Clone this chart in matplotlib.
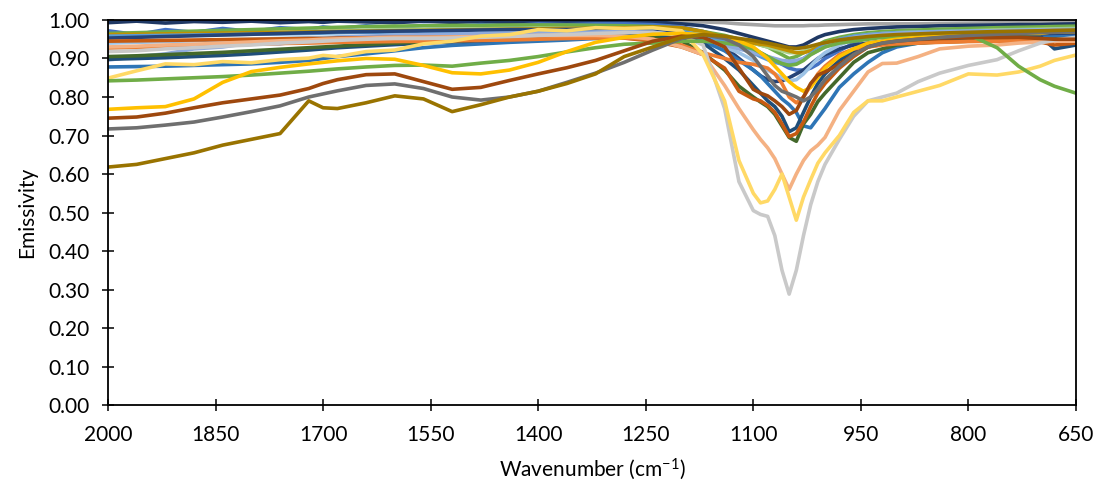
import matplotlib
matplotlib.use("Agg")
import matplotlib.pyplot as plt
from matplotlib.ticker import FixedLocator, FormatStrFormatter

plt.rcParams["font.family"] = ["Lato", "DejaVu Sans"]
plt.rcParams["mathtext.fontset"] = "custom"
plt.rcParams["mathtext.rm"] = "Lato"
plt.rcParams["mathtext.it"] = "Lato:italic"

# Wavenumber sampling (cm-1), shared by all spectra
wavenumber = [
    2000, 1960, 1920, 1880, 1840, 1800, 1760, 1720, 1700, 1680,
    1640, 1600, 1560, 1520, 1480, 1440, 1400, 1360, 1320, 1280, 1240,
    1200, 1170, 1140, 1120, 1100, 1090, 1080, 1070, 1060, 1050,
    1040, 1030, 1020, 1010, 1000, 980, 960, 940, 920, 900,
    870, 840, 800, 760, 730, 700, 680, 650,
]

gray_top = [
    0.997, 0.998, 0.997, 0.998, 0.998, 0.998, 0.997, 0.998, 0.998, 0.998,
    0.998, 0.998, 0.998, 0.998, 0.998, 0.998, 0.998, 0.998, 0.998, 0.998, 0.997,
    0.996, 0.995, 0.993, 0.990, 0.988, 0.987, 0.986, 0.985, 0.985, 0.985,
    0.985, 0.985, 0.986, 0.986, 0.987, 0.988, 0.989, 0.990, 0.990, 0.990,
    0.990, 0.991, 0.992, 0.993, 0.994, 0.995, 0.995, 0.995,
]
navy_top = [
    0.993, 0.997, 0.992, 0.996, 0.994, 0.997, 0.993, 0.996, 0.994, 0.997,
    0.995, 0.993, 0.997, 0.994, 0.996, 0.993, 0.996, 0.995, 0.997, 0.996, 0.995,
    0.990, 0.985, 0.975, 0.965, 0.955, 0.950, 0.945, 0.940, 0.935, 0.930,
    0.930, 0.935, 0.945, 0.955, 0.962, 0.970, 0.975, 0.978, 0.980, 0.982,
    0.983, 0.985, 0.986, 0.987, 0.988, 0.988, 0.989, 0.990,
]
steel_blue = [
    0.972, 0.962, 0.975, 0.968, 0.978, 0.970, 0.980, 0.975, 0.982, 0.978,
    0.985, 0.980, 0.986, 0.983, 0.988, 0.985, 0.990, 0.988, 0.990, 0.990, 0.988,
    0.982, 0.970, 0.955, 0.940, 0.925, 0.915, 0.905, 0.895, 0.885, 0.875,
    0.870, 0.870, 0.875, 0.885, 0.900, 0.920, 0.940, 0.955, 0.960, 0.965,
    0.968, 0.970, 0.972, 0.974, 0.975, 0.976, 0.977, 0.978,
]
green_top = [
    0.965, 0.967, 0.969, 0.971, 0.973, 0.975, 0.977, 0.979, 0.980, 0.981,
    0.983, 0.984, 0.985, 0.986, 0.986, 0.987, 0.987, 0.987, 0.986, 0.985, 0.983,
    0.978, 0.970, 0.960, 0.950, 0.940, 0.935, 0.930, 0.920, 0.910, 0.900,
    0.905, 0.915, 0.925, 0.935, 0.945, 0.955, 0.962, 0.967, 0.970, 0.972,
    0.974, 0.976, 0.978, 0.980, 0.981, 0.982, 0.983, 0.984,
]
light_green = [
    0.955, 0.957, 0.960, 0.962, 0.964, 0.966, 0.968, 0.970, 0.971, 0.972,
    0.974, 0.975, 0.976, 0.977, 0.977, 0.978, 0.978, 0.978, 0.977, 0.975, 0.972,
    0.968, 0.962, 0.955, 0.948, 0.940, 0.935, 0.930, 0.925, 0.920, 0.915,
    0.915, 0.918, 0.925, 0.932, 0.940, 0.950, 0.957, 0.962, 0.965, 0.967,
    0.969, 0.970, 0.972, 0.974, 0.975, 0.976, 0.977, 0.978,
]
dark_gold = [
    0.962, 0.963, 0.964, 0.965, 0.966, 0.967, 0.968, 0.969, 0.970, 0.970,
    0.971, 0.972, 0.973, 0.974, 0.975, 0.976, 0.977, 0.978, 0.979, 0.980, 0.982,
    0.980, 0.970, 0.955, 0.945, 0.940, 0.937, 0.935, 0.930, 0.925, 0.920,
    0.915, 0.915, 0.920, 0.930, 0.940, 0.950, 0.955, 0.958, 0.960, 0.962,
    0.963, 0.964, 0.965, 0.966, 0.967, 0.968, 0.968, 0.969,
]
sky_blue = [
    0.958, 0.959, 0.960, 0.961, 0.962, 0.963, 0.964, 0.965, 0.966, 0.967,
    0.968, 0.969, 0.970, 0.971, 0.972, 0.973, 0.974, 0.975, 0.976, 0.976, 0.975,
    0.970, 0.960, 0.945, 0.930, 0.915, 0.905, 0.897, 0.890, 0.886, 0.885,
    0.890, 0.900, 0.912, 0.925, 0.935, 0.950, 0.958, 0.962, 0.965, 0.967,
    0.968, 0.970, 0.971, 0.972, 0.973, 0.974, 0.975, 0.975,
]
navy_mid = [
    0.953, 0.955, 0.957, 0.959, 0.961, 0.963, 0.965, 0.967, 0.968, 0.969,
    0.970, 0.971, 0.972, 0.973, 0.974, 0.975, 0.975, 0.975, 0.975, 0.973, 0.970,
    0.965, 0.955, 0.930, 0.900, 0.870, 0.855, 0.845, 0.840, 0.842, 0.850,
    0.860, 0.870, 0.885, 0.900, 0.910, 0.925, 0.935, 0.940, 0.945, 0.948,
    0.950, 0.952, 0.955, 0.957, 0.958, 0.960, 0.960, 0.961,
]
pale_blue = [
    0.940, 0.942, 0.944, 0.946, 0.948, 0.950, 0.952, 0.954, 0.955, 0.956,
    0.957, 0.958, 0.959, 0.960, 0.961, 0.962, 0.963, 0.964, 0.965, 0.965, 0.962,
    0.955, 0.945, 0.930, 0.915, 0.895, 0.880, 0.870, 0.860, 0.850, 0.842,
    0.845, 0.860, 0.880, 0.900, 0.915, 0.935, 0.950, 0.958, 0.962, 0.965,
    0.967, 0.968, 0.970, 0.972, 0.973, 0.974, 0.975, 0.975,
]
cornflower = [
    0.896, 0.905, 0.912, 0.925, 0.930, 0.940, 0.938, 0.948, 0.950, 0.955,
    0.958, 0.960, 0.962, 0.963, 0.965, 0.966, 0.968, 0.968, 0.969, 0.970, 0.968,
    0.960, 0.950, 0.935, 0.925, 0.915, 0.910, 0.905, 0.900, 0.895, 0.893,
    0.895, 0.900, 0.910, 0.920, 0.930, 0.945, 0.955, 0.960, 0.963, 0.965,
    0.967, 0.968, 0.970, 0.971, 0.972, 0.973, 0.974, 0.975,
]
mid_blue = [
    0.878, 0.879, 0.880, 0.882, 0.884, 0.886, 0.890, 0.895, 0.900, 0.905,
    0.912, 0.920, 0.928, 0.934, 0.938, 0.942, 0.945, 0.948, 0.952, 0.955, 0.958,
    0.955, 0.945, 0.920, 0.895, 0.870, 0.855, 0.835, 0.815, 0.795, 0.780,
    0.760, 0.725, 0.720, 0.745, 0.770, 0.825, 0.860, 0.890, 0.915, 0.930,
    0.940, 0.945, 0.950, 0.952, 0.954, 0.955, 0.956, 0.957,
]
navy_low = [
    0.898, 0.900, 0.902, 0.905, 0.908, 0.912, 0.917, 0.922, 0.925, 0.928,
    0.932, 0.936, 0.940, 0.943, 0.946, 0.949, 0.952, 0.955, 0.958, 0.960, 0.960,
    0.955, 0.940, 0.900, 0.870, 0.830, 0.810, 0.790, 0.775, 0.750, 0.710,
    0.720, 0.760, 0.800, 0.835, 0.860, 0.895, 0.920, 0.935, 0.940, 0.945,
    0.948, 0.950, 0.953, 0.955, 0.957, 0.958, 0.925, 0.935,
]
forest_green = [
    0.905, 0.907, 0.910, 0.913, 0.916, 0.920, 0.924, 0.928, 0.930, 0.932,
    0.936, 0.940, 0.943, 0.946, 0.948, 0.950, 0.952, 0.954, 0.956, 0.957, 0.955,
    0.945, 0.915, 0.870, 0.828, 0.800, 0.787, 0.775, 0.755, 0.725, 0.695,
    0.685, 0.730, 0.755, 0.788, 0.810, 0.850, 0.890, 0.915, 0.925, 0.935,
    0.940, 0.943, 0.945, 0.947, 0.948, 0.949, 0.950, 0.950,
]
rust = [
    0.945, 0.946, 0.947, 0.948, 0.949, 0.950, 0.951, 0.952, 0.952, 0.953,
    0.954, 0.955, 0.955, 0.956, 0.956, 0.957, 0.957, 0.957, 0.956, 0.953, 0.945,
    0.930, 0.910, 0.875, 0.815, 0.795, 0.790, 0.778, 0.760, 0.730, 0.697,
    0.705, 0.735, 0.775, 0.810, 0.835, 0.875, 0.905, 0.930, 0.937, 0.940,
    0.942, 0.943, 0.945, 0.945, 0.944, 0.943, 0.935, 0.940,
]
orange = [
    0.927, 0.929, 0.931, 0.933, 0.935, 0.937, 0.939, 0.940, 0.941, 0.942,
    0.943, 0.944, 0.945, 0.946, 0.947, 0.948, 0.950, 0.952, 0.953, 0.953, 0.950,
    0.935, 0.915, 0.900, 0.890, 0.885, 0.880, 0.875, 0.860, 0.835, 0.800,
    0.785, 0.800, 0.830, 0.860, 0.880, 0.910, 0.925, 0.930, 0.935, 0.938,
    0.940, 0.942, 0.944, 0.945, 0.946, 0.947, 0.948, 0.948,
]
salmon = [
    0.930, 0.932, 0.935, 0.937, 0.940, 0.943, 0.946, 0.948, 0.950, 0.951,
    0.953, 0.955, 0.955, 0.956, 0.957, 0.958, 0.960, 0.960, 0.960, 0.958, 0.950,
    0.930, 0.910, 0.830, 0.770, 0.715, 0.690, 0.668, 0.640, 0.600, 0.560,
    0.600, 0.635, 0.660, 0.675, 0.695, 0.765, 0.815, 0.865, 0.887, 0.888,
    0.905, 0.925, 0.932, 0.935, 0.940, 0.943, 0.945, 0.945,
]
light_gray = [
    0.918, 0.920, 0.925, 0.928, 0.932, 0.935, 0.940, 0.943, 0.945, 0.947,
    0.950, 0.952, 0.952, 0.953, 0.955, 0.957, 0.960, 0.962, 0.965, 0.967, 0.968,
    0.960, 0.935, 0.770, 0.580, 0.505, 0.495, 0.490, 0.440, 0.350, 0.288,
    0.350, 0.440, 0.520, 0.580, 0.625, 0.690, 0.750, 0.790, 0.800, 0.810,
    0.840, 0.862, 0.882, 0.897, 0.920, 0.940, 0.948, 0.955,
]
light_yellow = [
    0.849, 0.868, 0.886, 0.884, 0.892, 0.889, 0.897, 0.901, 0.908, 0.905,
    0.918, 0.922, 0.938, 0.945, 0.958, 0.962, 0.975, 0.972, 0.980, 0.978, 0.980,
    0.972, 0.910, 0.790, 0.635, 0.550, 0.525, 0.530, 0.560, 0.600, 0.540,
    0.480, 0.540, 0.585, 0.628, 0.655, 0.700, 0.760, 0.790, 0.790, 0.800,
    0.815, 0.830, 0.860, 0.857, 0.865, 0.880, 0.895, 0.909,
]
green_low = [
    0.842, 0.844, 0.847, 0.850, 0.853, 0.857, 0.862, 0.867, 0.870, 0.873,
    0.878, 0.882, 0.883, 0.880, 0.888, 0.895, 0.905, 0.917, 0.928, 0.937, 0.940,
    0.945, 0.945, 0.940, 0.935, 0.925, 0.915, 0.905, 0.895, 0.887, 0.882,
    0.885, 0.895, 0.910, 0.920, 0.930, 0.940, 0.945, 0.950, 0.955, 0.955,
    0.960, 0.960, 0.962, 0.928, 0.880, 0.845, 0.828, 0.810,
]
gold = [
    0.768, 0.772, 0.775, 0.795, 0.838, 0.866, 0.877, 0.886, 0.890, 0.894,
    0.900, 0.898, 0.882, 0.863, 0.860, 0.870, 0.890, 0.918, 0.942, 0.955, 0.963,
    0.965, 0.962, 0.955, 0.945, 0.930, 0.915, 0.900, 0.880, 0.860, 0.840,
    0.825, 0.815, 0.825, 0.850, 0.875, 0.905, 0.925, 0.940, 0.945, 0.950,
    0.955, 0.960, 0.960, 0.965, 0.965, 0.965, 0.970, 0.970,
]
brown = [
    0.745, 0.748, 0.758, 0.772, 0.785, 0.795, 0.805, 0.822, 0.835, 0.845,
    0.858, 0.860, 0.840, 0.820, 0.825, 0.843, 0.860, 0.876, 0.895, 0.920, 0.945,
    0.958, 0.955, 0.930, 0.875, 0.820, 0.810, 0.803, 0.790, 0.775, 0.755,
    0.765, 0.800, 0.835, 0.857, 0.865, 0.885, 0.910, 0.930, 0.940, 0.945,
    0.950, 0.953, 0.955, 0.955, 0.955, 0.952, 0.950, 0.950,
]
dark_gray = [
    0.717, 0.720, 0.727, 0.735, 0.748, 0.762, 0.777, 0.800, 0.808, 0.816,
    0.830, 0.834, 0.822, 0.800, 0.792, 0.800, 0.815, 0.838, 0.862, 0.890, 0.922,
    0.952, 0.962, 0.952, 0.935, 0.905, 0.880, 0.855, 0.830, 0.815, 0.808,
    0.800, 0.790, 0.800, 0.820, 0.845, 0.880, 0.910, 0.930, 0.940, 0.945,
    0.950, 0.955, 0.960, 0.963, 0.965, 0.967, 0.968, 0.970,
]
olive = [
    0.618, 0.625, 0.640, 0.655, 0.675, 0.690, 0.705, 0.790, 0.772, 0.770,
    0.785, 0.803, 0.795, 0.762, 0.780, 0.800, 0.815, 0.835, 0.860, 0.905, 0.930,
    0.955, 0.962, 0.958, 0.952, 0.947, 0.943, 0.940, 0.936, 0.932, 0.928,
    0.926, 0.928, 0.932, 0.937, 0.941, 0.948, 0.953, 0.957, 0.960, 0.962,
    0.964, 0.966, 0.968, 0.970, 0.971, 0.972, 0.973, 0.974,
]

x_ticks = [2000, 1850, 1700, 1550, 1400, 1250, 1100, 950, 800, 650]
y_ticks = [0.0, 0.1, 0.2, 0.3, 0.4, 0.5, 0.6, 0.7, 0.8, 0.9, 1.0]

# spectra in drawing order (later ones sit on top)
spectra = [
    (gray_top, "#A5A5A5"),
    (navy_top, "#1F3864"),
    (steel_blue, "#4472C4"),
    (green_top, "#70AD47"),
    (light_green, "#A9D18E"),
    (dark_gold, "#BF9000"),
    (sky_blue, "#5B9BD5"),
    (navy_mid, "#264478"),
    (pale_blue, "#9DC3E6"),
    (cornflower, "#8FAADC"),
    (mid_blue, "#2E75B6"),
    (navy_low, "#1F4E79"),
    (forest_green, "#43682B"),
    (rust, "#C55A11"),
    (orange, "#ED7D31"),
    (salmon, "#F4B183"),
    (light_gray, "#C9C9C9"),
    (light_yellow, "#FFD966"),
    (green_low, "#70AD47"),
    (gold, "#FFC000"),
    (brown, "#9E480E"),
    (dark_gray, "#6F6F6F"),
    (olive, "#997300"),
]

fig = plt.figure(figsize=(11.04, 4.95), dpi=100)
ax = fig.add_axes([0.0978, 0.1818, 0.8768, 0.7778])

for values, color in spectra:
    ax.plot(wavenumber, values, color=color, lw=2.6, solid_joinstyle="round",
            solid_capstyle="round")

ax.set_xlim(2000, 650)
ax.set_ylim(0, 1)
ax.xaxis.set_major_locator(FixedLocator(x_ticks))
ax.yaxis.set_major_locator(FixedLocator(y_ticks))
ax.yaxis.set_major_formatter(FormatStrFormatter("%.2f"))

for side in ["left", "right", "top", "bottom"]:
    ax.spines[side].set_color("black")
    ax.spines[side].set_linewidth(1.3)

ax.tick_params(axis="both", direction="inout", length=9, width=1.1,
               labelsize=15, colors="black")
ax.tick_params(axis="x", pad=10)
ax.tick_params(axis="y", pad=9)

ax.set_xlabel("Wavenumber (cm$^{-1}$)", fontsize=15, labelpad=8)
ax.set_ylabel("Emissivity", fontsize=15, labelpad=8)

fig.savefig("out.png", dpi=100)
